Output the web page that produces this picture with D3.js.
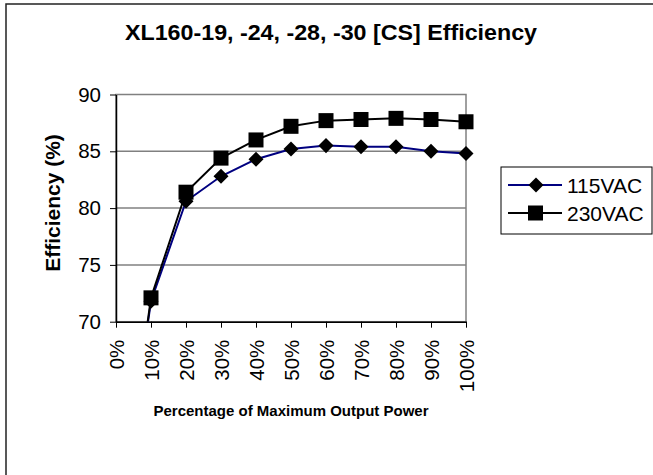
<!DOCTYPE html>
<html><head><meta charset="utf-8">
<script src="https://cdn.jsdelivr.net/npm/d3@7"></script>
<style>body{margin:0;background:#fff}svg{display:block}text{font-family:Arial,"Liberation Sans",sans-serif}</style>
</head><body>
<script>
const categories = ["0%","10%","20%","30%","40%","50%","60%","70%","80%","90%","100%"];
const xValues = [0,10,20,30,40,50,60,70,80,90,100];
const series115 = [50.5,71.8,80.6,82.8,84.3,85.2,85.5,85.4,85.4,85.0,84.8];
const series230 = [50.0,72.1,81.4,84.4,86.0,87.2,87.7,87.8,87.9,87.8,87.6];
const yTicks = [70,75,80,85,90];
const seriesNames = ["115VAC","230VAC"];

const W=653,H=475;
const FONT="Arial,'Liberation Sans',sans-serif";
const svg=d3.select("body").append("svg").attr("width",W).attr("height",H);
svg.append("rect").attr("width",W).attr("height",H).attr("fill","#fff");
// outer chart border (only top/left visible)
svg.append("rect").attr("x",6).attr("y",4).attr("width",W+20).attr("height",H+20)
  .attr("fill","none").attr("stroke","#222").attr("stroke-width",1.5);

const L=116,R=466,T=94.5,B=321.7;
const x=d3.scaleLinear().domain([0,100]).range([L,R]);
const y=d3.scaleLinear().domain([70,90]).range([B,T]);

// plot border & grid
svg.append("rect").attr("x",L).attr("y",T).attr("width",R-L).attr("height",B-T)
  .attr("fill","#fff").attr("stroke","#808080").attr("stroke-width",1.5);
svg.append("g").selectAll("line").data(yTicks.slice(1,-1)).join("line")
  .attr("x1",L).attr("x2",R).attr("y1",d=>y(d)).attr("y2",d=>y(d))
  .attr("stroke","#808080").attr("stroke-width",1.5);

// axes
const yAxis=svg.append("g").attr("transform",`translate(${L},0)`)
  .call(d3.axisLeft(y).tickValues(yTicks).tickSize(6).tickSizeOuter(0).tickPadding(9));
yAxis.select(".domain").attr("stroke","#000").attr("stroke-width",1.5);
yAxis.selectAll("line").attr("stroke","#000");
yAxis.selectAll("text").attr("font-size",20.5).attr("fill","#000").attr("font-family",FONT);

const xAxis=svg.append("g").attr("transform",`translate(0,${B})`)
  .call(d3.axisBottom(x).tickValues(xValues).tickFormat((d,i)=>categories[i]).tickSize(6).tickSizeOuter(0));
xAxis.select(".domain").attr("stroke","#000").attr("stroke-width",1.5);
xAxis.selectAll("line").attr("stroke","#000");
xAxis.selectAll("text").attr("font-size",20.5).attr("fill","#000").attr("font-family",FONT)
  .attr("transform","rotate(-90)").attr("text-anchor","end").attr("dy","0.35em").attr("x",-18).attr("y",0);

// clip
svg.append("clipPath").attr("id","clip").append("rect").attr("x",L-10).attr("y",T-10).attr("width",R-L+20).attr("height",B-T+10);

const line=d3.line().x((d,i)=>x(xValues[i])).y(d=>y(d));
const g=svg.append("g").attr("clip-path","url(#clip)");
g.append("path").datum(series115).attr("d",line).attr("fill","none").attr("stroke","#000080").attr("stroke-width",2);
g.append("path").datum(series230).attr("d",line).attr("fill","none").attr("stroke","#000").attr("stroke-width",2);

const diamond=d3.symbol().type(d3.symbolSquare).size(113);
g.selectAll(".d").data(series115).join("path").attr("class","d")
  .attr("d",diamond).attr("transform",(d,i)=>`translate(${x(xValues[i])},${y(d)}) rotate(45)`).attr("fill","#000");
g.selectAll(".s").data(series230).join("rect").attr("class","s")
  .attr("x",(d,i)=>x(xValues[i])-7.5).attr("y",d=>y(d)-7.5).attr("width",15).attr("height",15).attr("fill","#000");

// titles
svg.append("text").attr("x",331).attr("y",40).attr("text-anchor","middle").attr("font-size",22).attr("font-weight","bold")
  .attr("textLength",412).attr("lengthAdjust","spacingAndGlyphs")
  .text("XL160-19, -24, -28, -30 [CS] Efficiency");
svg.append("text").attr("transform",`translate(60,203) rotate(-90)`).attr("text-anchor","middle")
  .attr("font-size",21).attr("font-weight","bold").text("Efficiency (%)");
svg.append("text").attr("x",(L+R)/2).attr("y",416).attr("text-anchor","middle").attr("font-size",15).attr("font-weight","bold")
  .text("Percentage of Maximum Output Power");

// legend
const lg=svg.append("g");
lg.append("rect").attr("x",501).attr("y",167).attr("width",151).attr("height",67).attr("fill","#fff").attr("stroke","#000").attr("stroke-width",1);
const legY=[185,213];
lg.append("line").attr("x1",508).attr("x2",562).attr("y1",legY[0]).attr("y2",legY[0]).attr("stroke","#000080").attr("stroke-width",2);
lg.append("path").attr("d",diamond).attr("transform",`translate(536,${legY[0]}) rotate(45)`).attr("fill","#000");
lg.append("line").attr("x1",508).attr("x2",562).attr("y1",legY[1]).attr("y2",legY[1]).attr("stroke","#000").attr("stroke-width",2);
lg.append("rect").attr("x",528).attr("y",legY[1]-7.5).attr("width",15).attr("height",15).attr("fill","#000");
lg.selectAll("text.lt").data(seriesNames).join("text").attr("class","lt").attr("x",567).attr("y",(d,i)=>legY[i])
  .attr("dy","0.36em").attr("font-size",21).text(d=>d);
</script>
</body></html>
